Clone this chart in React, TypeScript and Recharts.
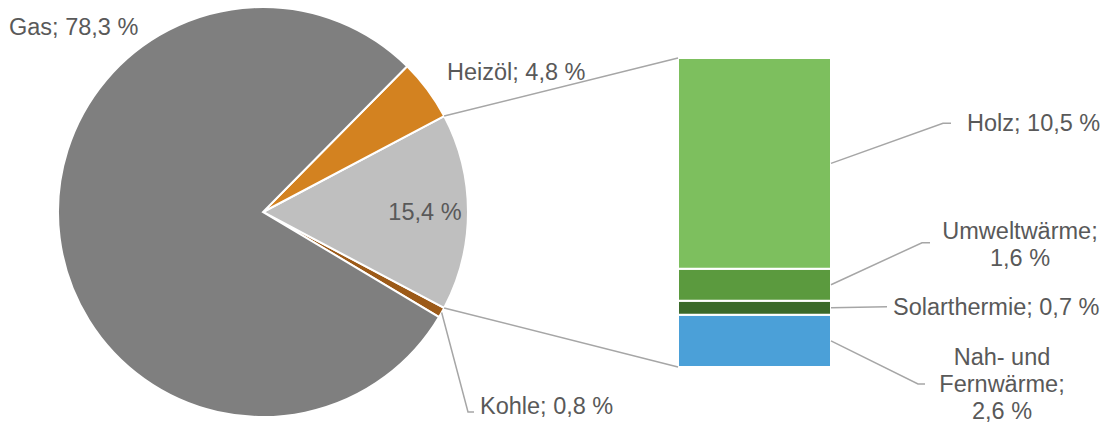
import React from "react";
import { PieChart, Pie, Cell, BarChart, Bar, XAxis, YAxis } from "recharts";

// Pie: Anteile der Energieträger (Reihenfolge gegen den Uhrzeigersinn ab Kohle)
const pieNames = ["Kohle", "Erneuerbare / Fernwärme", "Heizöl", "Gas"];
const pieValues = [0.8, 15.4, 4.8, 78.3];
const pieLabels = ["Kohle; 0,8 %", "15,4 %", "Heizöl; 4,8 %", "Gas; 78,3 %"];
const pieColors = ["#9C5A18", "#BFBFBF", "#D38220", "#7F7F7F"];

// Balken: Aufteilung der 15,4 % (von unten nach oben)
const barKeys = ["nah", "solar", "umwelt", "holz"];
const barValues = [2.6, 0.7, 1.6, 10.5];
const barLabels = [
  ["Nah- und", "Fernwärme;", "2,6 %"],
  ["Solarthermie; 0,7 %"],
  ["Umweltwärme;", "1,6 %"],
  ["Holz; 10,5 %"],
];
const barColors = ["#4BA0D8", "#3B6A2A", "#5B9A3E", "#7DBF5E"];

const W = 1106;
const H = 426;
const CX = 263;
const CY = 212;
const R = 205;
const FONT = "'Liberation Sans', Arial, sans-serif";
const TEXT = "#595959";
const LINE = "#A6A6A6";
const FS = 23.5;
const LH = 27;

// Winkel so wählen, dass das graue Segment um 0° zentriert ist
const pieTotal = pieValues.reduce((a, b) => a + b, 0);
const sliceDeg = pieValues.map((v) => (v / pieTotal) * 360);
const START = -(sliceDeg[0] + sliceDeg[1] / 2);
const restTop = START + sliceDeg[0] + sliceDeg[1];
const restBottom = START + sliceDeg[0];

const pieData = pieNames.map((name, i) => ({ name, value: pieValues[i] }));
const barRow: Record<string, any> = { name: "Rest" };
barKeys.forEach((k, i) => (barRow[k] = barValues[i]));
const barData = [barRow];
const barTotal = barValues.reduce((a, b) => a + b, 0);

const RAD = Math.PI / 180;
const polar = (angle: number, r: number) => ({
  x: CX + r * Math.cos(-angle * RAD),
  y: CY + r * Math.sin(-angle * RAD),
});

const pieLabel = (p: any) => {
  const { cx, cy, midAngle, outerRadius, index } = p;
  const txt = pieLabels[index];
  const style = { fontFamily: FONT, fontSize: FS, fill: TEXT };
  if (index === 1) {
    const pt = {
      x: cx + outerRadius * 0.79 * Math.cos(-midAngle * RAD),
      y: cy + outerRadius * 0.79 * Math.sin(-midAngle * RAD),
    };
    return (
      <text x={pt.x} y={pt.y} textAnchor="middle" dominantBaseline="central" {...style}>
        {txt}
      </text>
    );
  }
  if (index === 0) {
    const s = {
      x: cx + outerRadius * Math.cos(-midAngle * RAD),
      y: cy + outerRadius * Math.sin(-midAngle * RAD),
    };
    return (
      <g>
        <polyline
          points={`${s.x},${s.y} ${cx + 205},${cy + 200} ${cx + 211},${cy + 200}`}
          fill="none"
          stroke={LINE}
          strokeWidth={1.5}
        />
        <text x={cx + 217} y={cy + 194} dominantBaseline="central" {...style}>
          {txt}
        </text>
      </g>
    );
  }
  const off = index === 2 ? [184, -140] : [-254, -185];
  return (
    <text x={cx + off[0]} y={cy + off[1]} dominantBaseline="central" {...style}>
      {txt}
    </text>
  );
};

// Position der Beschriftungen relativ zur rechten Balkenkante / Segmentmitte
const barLabelLayout: Record<string, any> = {
  holz: { pts: [[112, -40], [120, -40]], text: [136, -40], anchor: "start" },
  umwelt: { pts: [[91, -42], [99, -42]], text: [189, -54], anchor: "middle" },
  solar: { pts: [[56, -1]], text: [62, -1], anchor: "start" },
  nah: { pts: [[87, 43], [94, 43]], text: [171, 16], anchor: "middle" },
};

const makeBarLabel = (i: number) => (p: any) => {
  const { x, y, width, height } = p;
  const key = barKeys[i];
  const lay = barLabelLayout[key];
  const rx = x + width;
  const my = y + height / 2;
  const pts = [[rx, my], ...lay.pts.map((d: number[]) => [rx + d[0], my + d[1]])]
    .map((q) => q.join(","))
    .join(" ");
  const lines = barLabels[i];
  let connector = null;
  if (key === "holz") {
    const a = polar(restTop, R);
    connector = <line x1={a.x} y1={a.y} x2={x} y2={y} stroke={LINE} strokeWidth={1.5} />;
  }
  if (key === "nah") {
    const a = polar(restBottom, R);
    connector = (
      <line x1={a.x} y1={a.y} x2={x} y2={y + height} stroke={LINE} strokeWidth={1.5} />
    );
  }
  return (
    <g>
      {connector}
      <polyline points={pts} fill="none" stroke={LINE} strokeWidth={1.5} />
      {lines.map((t, j) => (
        <text
          key={j}
          x={rx + lay.text[0]}
          y={my + lay.text[1] + j * LH}
          textAnchor={lay.anchor}
          dominantBaseline="central"
          fontFamily={FONT}
          fontSize={FS}
          fill={TEXT}
        >
          {t}
        </text>
      ))}
    </g>
  );
};

export default function App() {
  return (
    <div
      style={{
        position: "absolute",
        left: 0,
        top: 0,
        width: W,
        height: H,
        background: "#fff",
      }}
    >
      <div style={{ position: "absolute", left: 0, top: 0 }}>
        <PieChart width={W} height={H} margin={{ top: 0, right: 0, bottom: 0, left: 0 }}>
          <Pie
            data={pieData}
            dataKey="value"
            nameKey="name"
            cx={CX}
            cy={CY}
            outerRadius={R}
            startAngle={START}
            endAngle={START + 360}
            stroke="#fff"
            strokeWidth={2}
            labelLine={false}
            label={pieLabel}
            isAnimationActive={false}
          >
            {pieData.map((d, i) => (
              <Cell key={d.name} fill={pieColors[i]} />
            ))}
          </Pie>
        </PieChart>
      </div>
      <div style={{ position: "absolute", left: 0, top: 0, pointerEvents: "none" }}>
        <BarChart
          width={W}
          height={H}
          data={barData}
          margin={{ top: 58, right: 275, bottom: 59, left: 678 }}
          barCategoryGap={0}
        >
          <XAxis dataKey="name" hide />
          <YAxis hide domain={[0, barTotal]} />
          {barKeys.map((k, i) => (
            <Bar
              key={k}
              dataKey={k}
              stackId="a"
              fill={barColors[i]}
              stroke="#fff"
              strokeWidth={2}
              label={makeBarLabel(i)}
              isAnimationActive={false}
            />
          ))}
        </BarChart>
      </div>
    </div>
  );
}
